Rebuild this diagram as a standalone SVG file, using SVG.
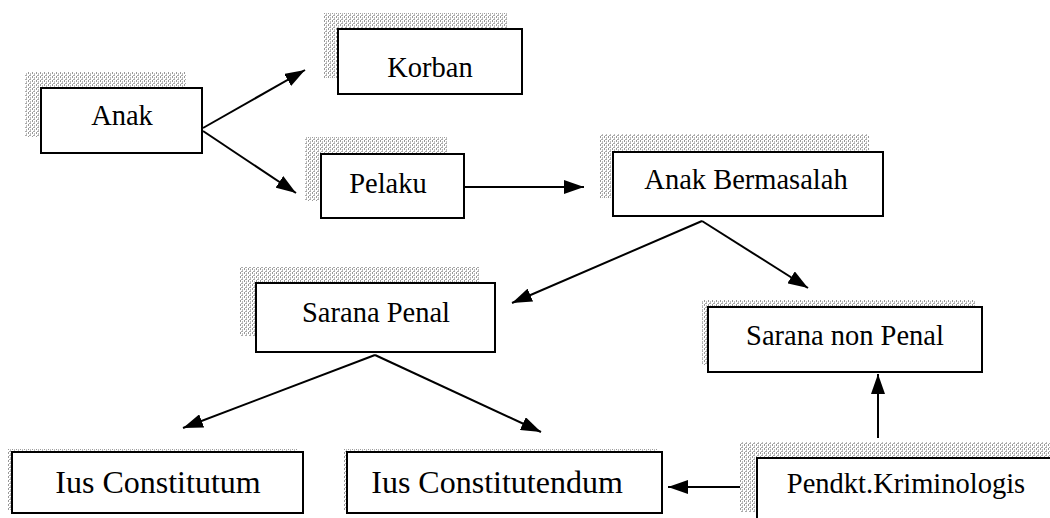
<svg xmlns="http://www.w3.org/2000/svg" width="1050" height="518" viewBox="0 0 1050 518">
<style>
.box{fill:#fff;stroke:#000;stroke-width:2}
.sh{fill:url(#hatch)}
.lbl{font-family:"Liberation Serif","Times New Roman",serif;font-size:28.5px;fill:#000;text-anchor:middle}
.big{font-size:32px}
.con{stroke:#000;stroke-width:2;fill:none;marker-end:url(#ah)}
</style>
<defs>
<pattern id="hatch" width="4" height="4" patternUnits="userSpaceOnUse">
<rect width="4" height="4" fill="#fff"/>
<rect x="0" y="0" width="1" height="2" fill="#999"/>
<rect x="2" y="1" width="1" height="2" fill="#bbb"/>
<rect x="1" y="3" width="2" height="1" fill="#aaa"/>
</pattern>
<marker id="ah" viewBox="0 0 20 14" refX="20" refY="7" markerWidth="20" markerHeight="14" markerUnits="userSpaceOnUse" orient="auto">
<path d="M0,0 L20,7 L0,14 Z" fill="#000"/>
</marker>
</defs>
<rect width="1050" height="518" fill="#fff"/>

<g id="connectors">
<line class="con" x1="203" y1="128" x2="305" y2="70"/>
<line class="con" x1="203" y1="131" x2="296" y2="193"/>
<line class="con" x1="464" y1="187" x2="584" y2="187"/>
<line class="con" x1="702" y1="221" x2="512" y2="303"/>
<line class="con" x1="702" y1="221" x2="808" y2="288"/>
<line class="con" x1="375" y1="355" x2="183" y2="428"/>
<line class="con" x1="375" y1="355" x2="541" y2="432"/>
<line class="con" x1="878" y1="438" x2="878" y2="374"/>
<line class="con" x1="743" y1="487" x2="668" y2="487"/>
</g>

<g id="node-anak">
<rect class="sh" x="25" y="72" width="161" height="65"/>
<rect class="box" x="41" y="88" width="161" height="65"/>
<text class="lbl" x="122" y="125">Anak</text>
</g>
<g id="node-korban">
<rect class="sh" x="323" y="13" width="184" height="65"/>
<rect class="box" x="338" y="29" width="184" height="65"/>
<text class="lbl" x="430" y="77">Korban</text>
</g>
<g id="node-pelaku">
<rect class="sh" x="305" y="137" width="143" height="64"/>
<rect class="box" x="321" y="154" width="143" height="64"/>
<text class="lbl" x="388" y="193">Pelaku</text>
</g>
<g id="node-anak-bermasalah">
<rect class="sh" x="599" y="134" width="270" height="64"/>
<rect class="box" x="613" y="152" width="270" height="64"/>
<text class="lbl" x="746" y="189">Anak Bermasalah</text>
</g>
<g id="node-sarana-penal">
<rect class="sh" x="240" y="267" width="239" height="69"/>
<rect class="box" x="256" y="283" width="239" height="69"/>
<text class="lbl" x="376" y="322">Sarana Penal</text>
</g>
<g id="node-sarana-non-penal">
<rect class="sh" x="702" y="300" width="274" height="65"/>
<rect class="box" x="708" y="307" width="274" height="65"/>
<text class="lbl" x="845" y="345">Sarana non Penal</text>
</g>
<g id="node-ius-constitutum">
<rect class="sh" x="7" y="449" width="291" height="61"/>
<rect class="box" x="12" y="452" width="291" height="61"/>
<text class="lbl big" x="158" y="493">Ius Constitutum</text>
</g>
<g id="node-ius-constitutendum">
<rect class="sh" x="343" y="449" width="315" height="61"/>
<rect class="box" x="347" y="452" width="315" height="61"/>
<text class="lbl big" x="497" y="493">Ius Constitutendum</text>
</g>
<g id="node-pendkt">
<rect class="sh" x="740" y="442" width="310" height="70"/>
<rect class="box" x="757" y="458" width="300" height="70"/>
<text class="lbl" x="906" y="493">Pendkt.Kriminologis</text>
</g>
</svg>
